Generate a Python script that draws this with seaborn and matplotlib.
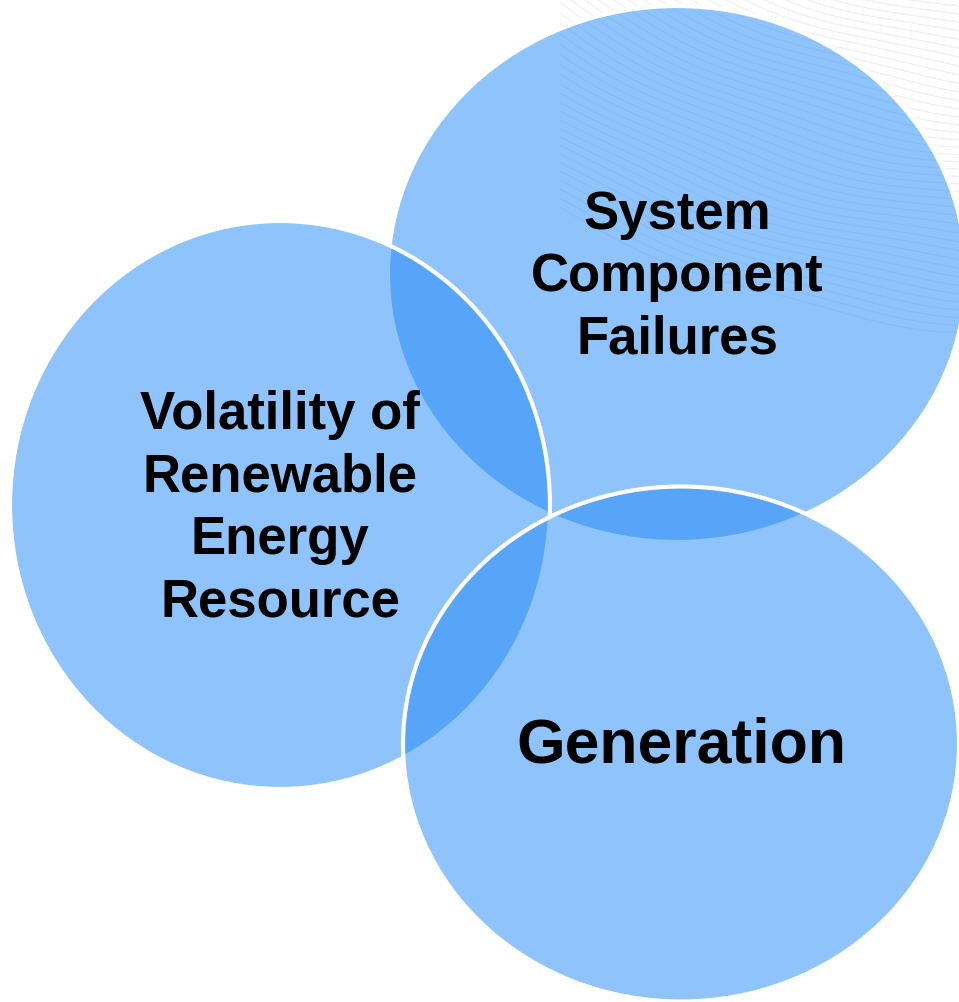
import numpy as np
import pandas as pd
import matplotlib
matplotlib.use("Agg")
import matplotlib.pyplot as plt
from matplotlib.patches import Ellipse
import seaborn as sns

# ---------------------------
# Chart data (pixel space of a 959 x 1002 canvas)
# ---------------------------

labels = [
    "System\nComponent\nFailures",
    "Volatility of\nRenewable\nEnergy\nResource",
    "Generation",
]
center_x = [677, 280, 681]
center_y = [274, 505, 744]
widths = [578, 540, 556]
heights = [536, 568, 515]
font_sizes = [38, 38, 45]
label_y = [277, 509, 746]

FILL = (31 / 255, 137 / 255, 249 / 255, 0.5)


def draw_texture(ax) -> None:
    """Faint wavy lines behind the top-right circle (background decoration)."""
    xs = np.linspace(560, 959, 200)
    for r in np.arange(720, 1060, 8):
        ys = -720 + np.sqrt(np.clip(r ** 2 - (xs - 1060) ** 2, 0, None))
        ys = ys + 3 * np.sin(xs / 40.0 + r / 30.0)
        ax.plot(xs, ys, color="#dcdcdc", lw=0.8, alpha=0.45, zorder=0)


def draw_venn(ax, df: pd.DataFrame) -> None:
    """Draw the three overlapping circles and their labels."""
    for i, row in df.iterrows():
        ax.add_patch(Ellipse((row["x"], row["y"]), row["w"], row["h"],
                             facecolor=FILL, edgecolor="white",
                             linewidth=3.0, zorder=2 + i))
    for _, row in df.iterrows():
        ax.text(row["x"], row["ly"], row["label"], ha="center", va="center",
                fontsize=row["fs"], fontweight="bold", color="black",
                linespacing=1.32, zorder=10)


if __name__ == "__main__":
    sns.set_theme(style="white")
    plt.rcParams["font.family"] = ["Liberation Sans", "DejaVu Sans"]

    df = pd.DataFrame({
        "label": labels, "x": center_x, "y": center_y,
        "w": widths, "h": heights, "fs": font_sizes, "ly": label_y,
    })

    fig = plt.figure(figsize=(9.59, 10.02), dpi=100)
    ax = fig.add_axes([0, 0, 1, 1])
    ax.set_xlim(0, 959)
    ax.set_ylim(1002, 0)
    ax.axis("off")

    draw_texture(ax)
    draw_venn(ax, df)

    fig.savefig("out.png", dpi=100, facecolor="white")
